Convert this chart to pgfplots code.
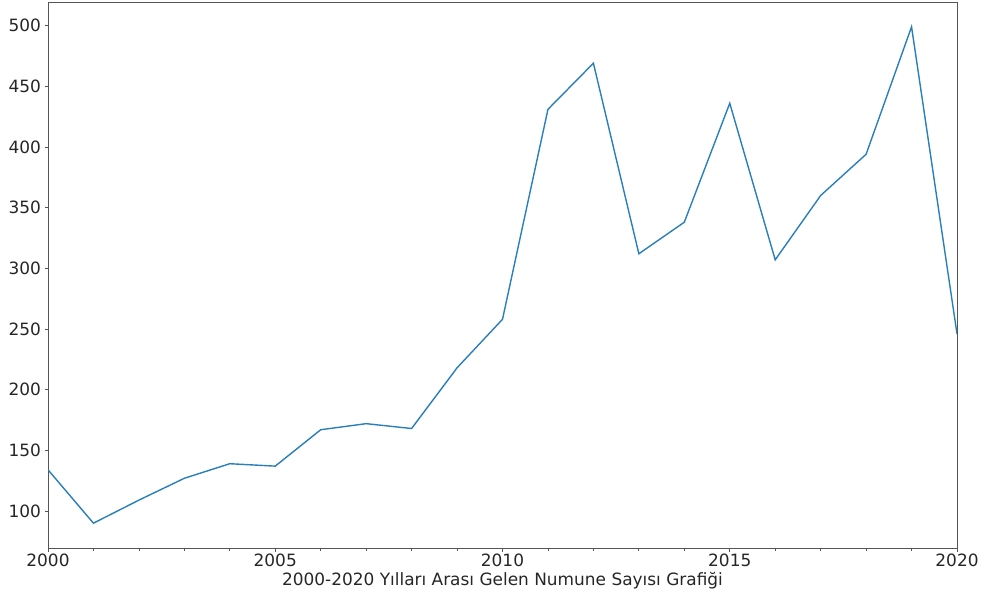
\documentclass[border=0pt]{standalone}
\usepackage{fontspec}
\setmainfont{DejaVu Sans}
\usepackage{pgfplots}
\pgfplotsset{compat=1.18}

\definecolor{lineblue}{HTML}{2A7FBA}
\definecolor{spine}{HTML}{555555}

\pgfplotstableread{
year count
2000 134
2001 90
2002 109
2003 127
2004 139
2005 137
2006 167
2007 172
2008 168
2009 218
2010 258
2011 431
2012 469
2013 312
2014 338
2015 436
2016 307
2017 360
2018 394
2019 499
2020 246
}\samples

\begin{document}
\begin{tikzpicture}
\begin{axis}[
  scale only axis,
  width=909bp, height=546bp,
  xmin=2000, xmax=2020,
  ymin=69.55, ymax=519.45,
  xtick={2000,2005,...,2020},
  minor xtick={2001,2002,2003,2004,2006,2007,2008,2009,2011,2012,2013,2014,2016,2017,2018,2019},
  ytick={100,150,...,500},
  tick align=outside,
  tick pos=left,
  major tick length=3.5bp,
  minor tick length=2.5bp,
  every tick/.style={spine, line width=0.8bp},
  axis line style={spine, line width=0.9bp},
  /pgf/number format/assume math mode=true,
  /pgf/number format/1000 sep={},
  tick label style={font=\fontsize{17}{20}\selectfont, text=black!85},
  xticklabel style={yshift=1bp},
  label style={font=\fontsize{17}{20}\selectfont, text=black!85},
  xlabel={2000-2020 Yılları Arası Gelen Numune Sayısı Grafiği},
  xlabel style={yshift=1.5bp},
]
\addplot[lineblue, line width=1.4bp] table[x=year, y=count] {\samples};
\end{axis}
\path[use as bounding box] ([shift={(-48bp,-50bp)}]current axis.south west) rectangle ([shift={(25bp,2bp)}]current axis.north east);
\end{tikzpicture}
\end{document}
